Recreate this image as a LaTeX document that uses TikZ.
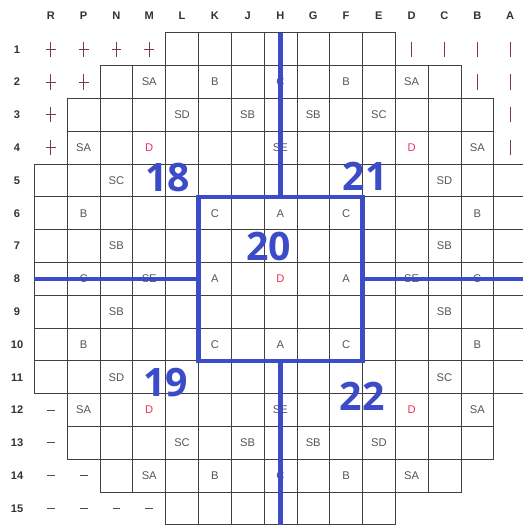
\documentclass[tikz,border=0pt]{standalone}
\usepackage{fontspec}
\setmainfont{Liberation Sans}
\newfontfamily\zonefont{Open Sans}
\definecolor{zoneblue}{RGB}{60,75,200}
\definecolor{labelgray}{RGB}{85,85,85}
\definecolor{reddot}{RGB}{232,48,90}
\definecolor{markred}{RGB}{125,55,70}
\begin{document}
\begin{tikzpicture}[x=1cm,y=-1cm,
  cellbox/.style={draw=black!75,line width=.6pt},
  hdr/.style={text=black!80,font=\fontsize{9.6}{11}\selectfont\bfseries,inner sep=0pt},
  lbl/.style={text=labelgray,font=\fontsize{9.7}{11}\selectfont,inner sep=0pt},
  zone/.style={draw=zoneblue,line width=3.6pt},
  zonenum/.style={text=zoneblue,font=\zonefont\fontsize{34}{36}\selectfont\bfseries,inner sep=0pt},
  mk/.style={draw=markred,line width=.8pt},
  dashmk/.style={draw=black!70,line width=.8pt}]
\useasboundingbox (0,0) rectangle (15.945,16.006);
\clip (0,0) rectangle (15.945,16.006);
\foreach \r/\a/\b in {1/4/10,2/2/12,3/1/13,4/1/13,5/0/14,6/0/14,7/0/14,8/0/14,
    9/0/14,10/0/14,11/0/14,12/1/13,13/1/13,14/2/12,15/4/10}
  \foreach \c in {\a,...,\b}
    \draw[cellbox] (1.05+\c,\r) rectangle ++(1,1);
\foreach \l [count=\c from 0] in {R,P,N,M,L,K,J,H,G,F,E,D,C,B,A}
  \node[hdr] (col-\l) at (1.55+\c,0.49) {\l};
\foreach \r in {1,...,15}
  \node[hdr] (row-\r) at (0.52,\r+0.5) {\r};
\foreach \c/\r/\t in {3/2/SA,5/2/B,7/2/C,9/2/B,11/2/SA,
    4/3/SD,6/3/SB,8/3/SB,10/3/SC,
    1/4/SA,7/4/SE,13/4/SA,
    2/5/SC,12/5/SD,
    1/6/B,5/6/C,7/6/A,9/6/C,13/6/B,
    2/7/SB,12/7/SB,
    1/8/C,3/8/SE,5/8/A,9/8/A,11/8/SE,13/8/C,
    2/9/SB,12/9/SB,
    1/10/B,5/10/C,7/10/A,9/10/C,13/10/B,
    2/11/SD,12/11/SC,
    1/12/SA,7/12/SE,13/12/SA,
    4/13/SC,6/13/SB,8/13/SB,10/13/SD,
    3/14/SA,5/14/B,7/14/C,9/14/B,11/14/SA}
  \node[lbl] (t-\c-\r) at (1.55+\c,\r+0.5) {\t};
\foreach \c/\r in {3/4,11/4,7/8,3/12,11/12}
  \node[lbl,text=reddot] (d-\c-\r) at (1.55+\c,\r+0.5) {D};
\foreach \c/\r in {0/1,1/1,2/1,3/1,0/2,1/2,0/3,0/4}
  \draw[mk] (1.55+\c,\r+0.27) -- (1.55+\c,\r+0.73)
    (1.40+\c,\r+0.5) -- (1.70+\c,\r+0.5);
\foreach \c/\r in {11/1,12/1,13/1,14/1,13/2,14/2,14/3,14/4}
  \draw[mk] (1.55+\c,\r+0.27) -- (1.55+\c,\r+0.73);
\foreach \c/\r in {0/12,0/13,0/14,1/14,0/15,1/15,2/15,3/15}
  \draw[dashmk] (1.43+\c,\r+0.5) -- (1.67+\c,\r+0.5);
\node[zone,minimum width=5cm,minimum height=5cm,inner sep=0pt] (core) at (8.55,8.5) {};
\coordinate (n-end) at (8.55,1);
\coordinate (s-end) at (8.55,16.1);
\coordinate (w-end) at (1.05,8.5);
\coordinate (e-end) at (16.1,8.5);
\draw[zone] (n-end) -- (core.north);
\draw[zone] (core.south) -- (s-end);
\draw[zone] (w-end) -- (core.west);
\draw[zone] (core.east) -- (e-end);
\node[zonenum] (z18) at (5.12,5.40) {18};
\node[zonenum] (z21) at (11.13,5.37) {21};
\node[zonenum] (z20) at (8.20,7.52) {20};
\node[zonenum] (z19) at (5.06,11.65) {19};
\node[zonenum] (z22) at (11.04,12.07) {22};
\end{tikzpicture}
\end{document}
